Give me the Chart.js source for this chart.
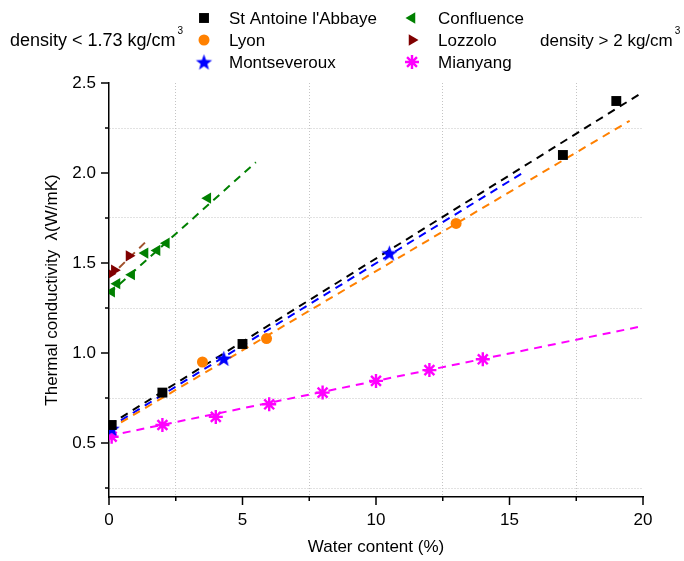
<!DOCTYPE html>
<html>
<head>
<meta charset="utf-8">
<script src="https://cdn.jsdelivr.net/npm/chart.js@4.4.1/dist/chart.umd.min.js"></script>
<style>
  html, body { margin: 0; padding: 0; background: #fff; }
  #wrap { width: 684px; height: 561px; position: relative; }
</style>
</head>
<body>
<div id="wrap"><canvas id="chart"></canvas></div>
<script>
// -----------------------------
// Data
// -----------------------------
const stAntoineX = [0.1, 2, 5, 17, 19];
const stAntoineY = [0.6, 0.78, 1.05, 2.1, 2.4];

const lyonX = [3.5, 5.9, 13];
const lyonY = [0.95, 1.08, 1.72];

const montseverouxX = [0.1, 4.3, 10.5];
const montseverouxY = [0.58, 0.97, 1.555];

const confluenceX = [0.1, 0.3, 0.85, 1.35, 1.8, 2.15, 3.7];
const confluenceY = [1.34, 1.385, 1.435, 1.555, 1.57, 1.61, 1.86];

const lozzoloX = [0.04, 0.2, 0.75];
const lozzoloY = [1.44, 1.46, 1.54];

const mianyangX = [0.1, 2, 4, 6, 8, 10, 12, 14];
const mianyangY = [0.535, 0.6, 0.645, 0.715, 0.78, 0.845, 0.905, 0.965];

// dashed fit lines (start / end)
const fitStAntoineX = [0, 20];
const fitStAntoineY = [0.6, 2.45];
const fitLyonX = [0, 19.5];
const fitLyonY = [0.575, 2.29];
const fitMontseverouxX = [0, 15.6];
const fitMontseverouxY = [0.585, 2.01];
const fitConfluenceX = [0, 5.5];
const fitConfluenceY = [1.33, 2.06];
const fitLozzoloX = [0, 1.5];
const fitLozzoloY = [1.42, 1.635];
const fitMianyangX = [0, 20];
const fitMianyangY = [0.54, 1.15];

const xTickValues = [0, 2.5, 5, 7.5, 10, 12.5, 15, 17.5, 20];
const yTickValues = [0.25, 0.5, 0.75, 1, 1.25, 1.5, 1.75, 2, 2.25, 2.5];

const leftNote = "density < 1.73 kg/cm";
const rightNote = "density > 2 kg/cm";

// -----------------------------
// Helpers
// -----------------------------
const FONT = "Arial, 'Liberation Sans', sans-serif";
const GRID = "#c4c4c4";

function pts(xs, ys) {
  return xs.map((x, i) => ({ x: x, y: ys[i] }));
}

function isMajorX(v) { return Math.abs(v / 5 - Math.round(v / 5)) < 1e-6; }
function isMajorY(v) { return Math.abs(v * 2 - Math.round(v * 2)) < 1e-6; }

function makeStar(color, r) {
  const c = document.createElement("canvas");
  c.width = c.height = Math.ceil(r * 2) + 2;
  const g = c.getContext("2d");
  const cx = c.width / 2, cy = c.height / 2 + 0.8;
  g.beginPath();
  for (let i = 0; i < 10; i++) {
    const rr = i % 2 === 0 ? r : r * 0.42;
    const a = -Math.PI / 2 + i * Math.PI / 5;
    g.lineTo(cx + rr * Math.cos(a), cy + rr * Math.sin(a));
  }
  g.closePath();
  g.fillStyle = color;
  g.fill();
  return c;
}

const starImg = makeStar("#0000ff", 8.5);

function markerSet(label, xs, ys, color, style, radius, rotation, bw) {
  return {
    type: "scatter",
    label: label,
    data: pts(xs, ys),
    backgroundColor: color,
    borderColor: color,
    pointStyle: style,
    pointRadius: radius,
    pointHoverRadius: radius,
    pointRotation: rotation,
    pointBorderWidth: bw,
    showLine: false,
    order: 0
  };
}

function fitSet(xs, ys, color) {
  return {
    type: "scatter",
    label: "",
    data: pts(xs, ys),
    borderColor: color,
    backgroundColor: color,
    borderWidth: 2,
    borderDash: [8, 6],
    pointRadius: 0,
    showLine: true,
    fill: false,
    order: 1
  };
}

const markers = {
  stAntoine: markerSet("St Antoine l'Abbaye", stAntoineX, stAntoineY, "#000000", "rect", 7, 0, 0),
  lyon: markerSet("Lyon", lyonX, lyonY, "#ff8000", "circle", 5.5, 0, 0),
  montseveroux: markerSet("Montseveroux", montseverouxX, montseverouxY, "#0000ff", starImg, 8, 0, 0),
  confluence: markerSet("Confluence", confluenceX, confluenceY, "#008000", "triangle", 6.5, -90, 0),
  lozzolo: markerSet("Lozzolo", lozzoloX, lozzoloY, "#800000", "triangle", 6.5, 90, 0),
  mianyang: markerSet("Mianyang", mianyangX, mianyangY, "#ff00ff", "star", 7, 0, 2.4)
};

// legend grid, row by row
const legendOrder = [
  ["stAntoine", "confluence"],
  ["lyon", "lozzolo"],
  ["montseveroux", "mianyang"]
];

// -----------------------------
// Plugins
// -----------------------------
const axisTicks = {
  id: "axisTicks",
  afterDraw(chart) {
    const { ctx, chartArea, scales } = chart;
    ctx.save();
    ctx.strokeStyle = "#000";
    ctx.lineWidth = 1.5;
    xTickValues.forEach(v => {
      const px = scales.x.getPixelForValue(v);
      const len = isMajorX(v) ? 8 : 4;
      ctx.beginPath();
      ctx.moveTo(px, chartArea.bottom);
      ctx.lineTo(px, chartArea.bottom + len);
      ctx.stroke();
    });
    yTickValues.forEach(v => {
      const py = scales.y.getPixelForValue(v);
      const len = isMajorY(v) ? 8 : 4;
      ctx.beginPath();
      ctx.moveTo(chartArea.left, py);
      ctx.lineTo(chartArea.left - len, py);
      ctx.stroke();
    });
    ctx.restore();
  }
};

const topLegend = {
  id: "topLegend",
  afterDraw(chart) {
    const ctx = chart.ctx;
    const colMarker = [204, 412];
    const colText = [229, 438];
    const rowY = [18, 40, 62];
    ctx.save();
    ctx.font = "17px " + FONT;
    ctx.textBaseline = "middle";
    ctx.textAlign = "left";
    legendOrder.forEach((row, r) => {
      row.forEach((key, c) => {
        const ds = markers[key];
        ctx.fillStyle = ds.backgroundColor;
        ctx.strokeStyle = ds.borderColor;
        ctx.lineWidth = ds.pointBorderWidth;
        Chart.helpers.drawPoint(ctx, {
          pointStyle: ds.pointStyle,
          rotation: ds.pointRotation,
          radius: ds.pointRadius,
          borderWidth: ds.pointBorderWidth
        }, colMarker[c], rowY[r]);
        ctx.fillStyle = "#000";
        ctx.fillText(ds.label, colText[c], rowY[r] + 1);
      });
    });

    // density notes with superscript 3
    ctx.fillStyle = "#000";
    ctx.font = "18px " + FONT;
    ctx.fillText(leftNote, 10, 41);
    let w = ctx.measureText(leftNote).width;
    ctx.font = "10px " + FONT;
    ctx.fillText("3", 10 + w + 2, 31);

    ctx.font = "17px " + FONT;
    ctx.fillText(rightNote, 540, 41);
    w = ctx.measureText(rightNote).width;
    ctx.font = "10px " + FONT;
    ctx.fillText("3", 540 + w + 2, 31);
    ctx.restore();
  }
};

// -----------------------------
// Chart
// -----------------------------
const datasets = [
  markers.stAntoine, markers.lyon, markers.montseveroux,
  markers.confluence, markers.lozzolo, markers.mianyang,
  fitSet(fitStAntoineX, fitStAntoineY, "#000000"),
  fitSet(fitLyonX, fitLyonY, "#ff8000"),
  fitSet(fitMontseverouxX, fitMontseverouxY, "#0000ff"),
  fitSet(fitConfluenceX, fitConfluenceY, "#008000"),
  fitSet(fitLozzoloX, fitLozzoloY, "#a0522d"),
  fitSet(fitMianyangX, fitMianyangY, "#ff00ff")
];

new Chart(document.getElementById("chart"), {
  type: "scatter",
  data: { datasets: datasets },
  options: {
    responsive: true,
    maintainAspectRatio: false,
    animation: false,
    layout: { padding: { top: 83, right: 41, left: 0, bottom: 0 } },
    plugins: {
      legend: { display: false },
      tooltip: { enabled: false }
    },
    scales: {
      x: {
        type: "linear",
        min: 0,
        max: 20,
        afterBuildTicks: s => { s.ticks = xTickValues.map(v => ({ value: v })); },
        afterFit: s => { s.height = 64; },
        grid: {
          color: c => (c.tick && !isMajorX(c.tick.value)) ? GRID : "transparent",
          lineWidth: 1,
          drawTicks: false
        },
        border: { display: true, color: "#000", width: 1.5, dash: [1, 2] },
        ticks: {
          padding: 13,
          color: "#000",
          autoSkip: false,
          maxRotation: 0,
          font: { family: FONT, size: 17 },
          callback: v => isMajorX(v) ? String(v) : ""
        },
        title: {
          display: true,
          text: "Water content (%)",
          color: "#000",
          font: { family: FONT, size: 17 },
          padding: { top: 0, bottom: 3 }
        }
      },
      y: {
        type: "linear",
        min: 0.2,
        max: 2.5,
        afterBuildTicks: s => { s.ticks = yTickValues.map(v => ({ value: v })); },
        afterFit: s => { s.width = 109; },
        grid: {
          color: c => (c.tick && !isMajorY(c.tick.value)) ? GRID : "transparent",
          lineWidth: 1,
          drawTicks: false
        },
        border: { display: true, color: "#000", width: 1.5, dash: [1, 2] },
        ticks: {
          padding: 13,
          color: "#000",
          autoSkip: false,
          font: { family: FONT, size: 17 },
          callback: v => isMajorY(v) ? v.toFixed(1) : ""
        },
        title: {
          display: true,
          text: "Thermal conductivity  λ(W/mK)",
          color: "#000",
          font: { family: FONT, size: 17 },
          padding: { top: 42, bottom: 0 }
        }
      }
    }
  },
  plugins: [axisTicks, topLegend]
});
</script>
</body>
</html>
